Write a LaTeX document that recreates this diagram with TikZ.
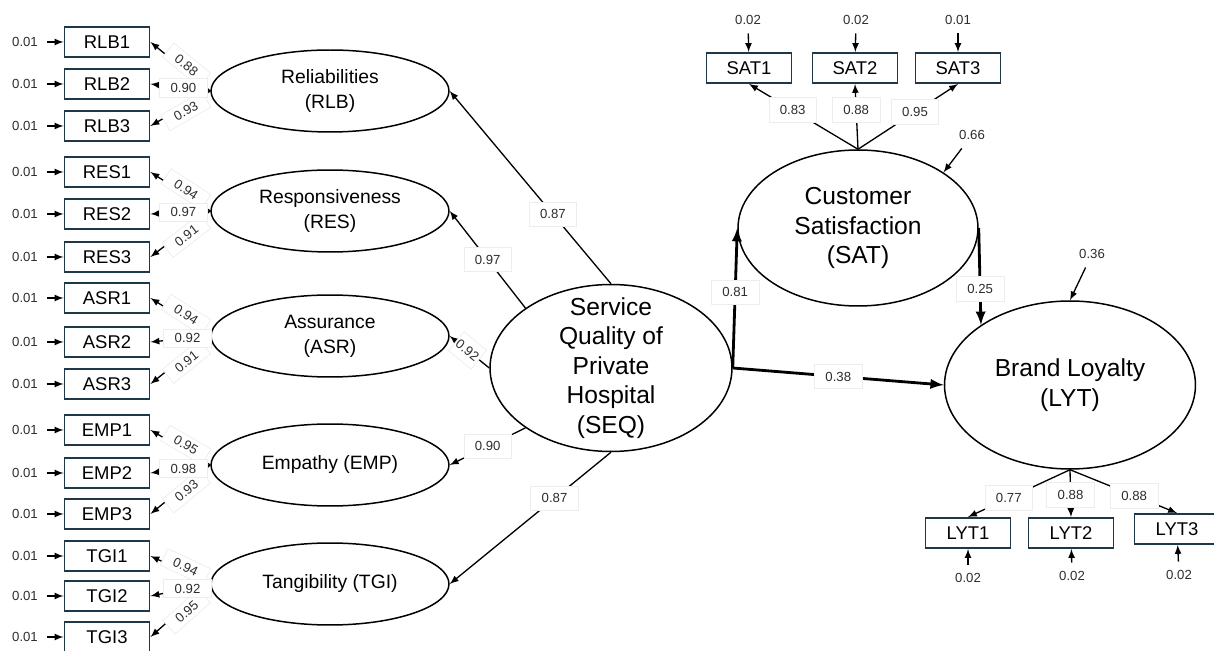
\documentclass[tikz,border=0pt]{standalone}
\usepackage{fontspec}
\setmainfont{Liberation Sans}
\usepackage{tikz}
\usetikzlibrary{shapes.geometric}
\definecolor{boxline}{RGB}{31,56,72}
\definecolor{numgray}{RGB}{45,45,45}
\tikzset{
	obs/.style={draw=boxline,line width=1.1pt,minimum width=1.7cm,minimum height=.6cm,inner sep=0pt,font=\fontsize{10.5}{12}\selectfont},
	err/.style={inner sep=2pt,outer sep=3pt,text=numgray,font=\fontsize{7.5}{9}\selectfont},
	load/.style={fill=white,draw=black!7,line width=.4pt,minimum width=27pt,minimum height=14pt,inner sep=1pt,text=numgray,font=\fontsize{7.5}{9}\selectfont},
	lload/.style={load,sloped,pos=.45,minimum height=0pt,inner ysep=2.5pt},
	lat/.style={ellipse,draw,line width=.85pt,inner sep=0pt,align=center},
	fac/.style={lat,minimum width=4.76cm,minimum height=1.64cm,font=\fontsize{11}{14.2}\selectfont},
	big/.style={align=center,font=\fontsize{14}{16.8}\selectfont},
	arr/.style={-latex,line width=.75pt},
	thk/.style={-latex,line width=1.6pt}
}
\newcommand{\indic}[2]{
	\node[obs](#1)at(107,#2){#1};
	\node[err](e#1)at(25,#2){0.01};
	\draw[arr](e#1)--(#1)
}

\begin{document}
\begin{tikzpicture}[x=.02cm,y=-.02cm]
	\useasboundingbox(0,0)rectangle(1214,651);
	% indicators of the five dimensions
	\indic{RLB1}{42};
	\indic{RLB2}{84};
	\indic{RLB3}{126};
	\indic{RES1}{172};
	\indic{RES2}{214};
	\indic{RES3}{257};
	\indic{ASR1}{298};
	\indic{ASR2}{342};
	\indic{ASR3}{384};
	\indic{EMP1}{430};
	\indic{EMP2}{473};
	\indic{EMP3}{514};
	\indic{TGI1}{556};
	\indic{TGI2}{596};
	\indic{TGI3}{637};
	\node[fac](RLB)at(330,91){Reliabilities\\(RLB)};
	\node[fac](RES)at(330,211){Responsiveness\\(RES)};
	\node[fac](ASR)at(330,336){Assurance\\(ASR)};
	\node[fac](EMP)at(330,465){Empathy (EMP)};
	\node[fac](TGI)at(330,584){Tangibility (TGI)};
	\draw[arr](RLB.west)--node[lload,above=-2.5pt]{0.88}(RLB1.east);
	\draw[arr](RLB.west)--node[lload,below=-2.5pt]{0.93}(RLB3.east);
	\draw[arr](RLB.west)--node[lload,sloped=false]{0.90}(RLB2.east);
	\draw[arr](RES.west)--node[lload,above=-2.5pt]{0.94}(RES1.east);
	\draw[arr](RES.west)--node[lload,below=-2.5pt]{0.91}(RES3.east);
	\draw[arr](RES.west)--node[lload,sloped=false]{0.97}(RES2.east);
	\draw[arr](ASR.west)--node[lload,above=-2.5pt]{0.94}(ASR1.east);
	\draw[arr](ASR.west)--node[lload,below=-2.5pt]{0.91}(ASR3.east);
	\draw[arr](ASR.west)--node[lload,sloped=false,pos=.38]{0.92}(ASR2.east);
	\draw[arr](EMP.west)--node[lload,above=-2.5pt]{0.95}(EMP1.east);
	\draw[arr](EMP.west)--node[lload,below=-2.5pt]{0.93}(EMP3.east);
	\draw[arr](EMP.west)--node[lload,sloped=false]{0.98}(EMP2.east);
	\draw[arr](TGI.west)--node[lload,above=-2.5pt]{0.94}(TGI1.east);
	\draw[arr](TGI.west)--node[lload,below=-2.5pt]{0.95}(TGI3.east);
	\draw[arr](TGI.west)--node[lload,sloped=false,pos=.38]{0.92}(TGI2.east);
	% second order factor and outcomes
	\node[lat,minimum width=4.84cm,minimum height=3.34cm,label={[big]center:{Service\\Quality of\\Private\\Hospital\\(SEQ)}}](SEQ)at(611,368){};
	\node[lat,big,minimum width=4.8cm,minimum height=3.12cm](SAT)at(858,228){Customer\\Satisfaction\\(SAT)};
	\node[lat,big,minimum width=5.02cm,minimum height=3.36cm](LYT)at(1070,385){Brand Loyalty\\(LYT)};
	\draw[arr](SEQ.north)--node[load,pos=.36]{0.87}(RLB.east);
	\draw[arr](SEQ.145)--node[load]{0.97}(RES.east);
	\draw[arr](SEQ.west)--node[load,sloped,pos=.55,minimum width=0pt]{0.92}(ASR.east);
	\draw[arr](SEQ.215)--node[load]{0.90}(EMP.east);
	\draw[arr](SEQ.south)--node[load,pos=.35]{0.87}(TGI.east);
	\draw[thk](SEQ.east)--node[load,pos=.54]{0.81}(SAT.west);
	\draw[thk](SEQ.east)--node[load]{0.38}(LYT.west);
	\draw[thk](SAT.east)--node[load,pos=.63]{0.25}(LYT.146);
	% satisfaction items
	\node[obs](SAT1)at(749,68){SAT1};
	\node[obs](SAT2)at(855,68){SAT2};
	\node[obs](SAT3)at(958,68){SAT3};
	\node[err](eSAT1)at(748,20){0.02};
	\node[err](eSAT2)at(856,20){0.02};
	\node[err](eSAT3)at(958,20){0.01};
	\draw[arr](eSAT1)--(SAT1);
	\draw[arr](eSAT2)--(SAT2);
	\draw[arr](eSAT3)--(SAT3);
	\draw[arr](SAT.north)--node[load,pos=.6]{0.83}(SAT1.south);
	\draw[arr](SAT.north)--node[load,pos=.6]{0.88}(SAT2.south);
	\draw[arr](SAT.north)--node[load,pos=.57]{0.95}(SAT3.south);
	\node[err](eSAT)at(972,135){0.66};
	\draw[arr](eSAT)--(SAT.33);
	% loyalty items
	\node[obs](LYT1)at(968,533){LYT1};
	\node[obs](LYT2)at(1071,533){LYT2};
	\node[obs](LYT3)at(1177,529){LYT3};
	\node[err](eLYT1)at(968,578){0.02};
	\node[err](eLYT2)at(1072,576){0.02};
	\node[err](eLYT3)at(1179,575){0.02};
	\draw[arr](eLYT1)--(LYT1);
	\draw[arr](eLYT2)--(LYT2);
	\draw[arr](eLYT3)--(LYT3);
	\draw[arr](LYT.south)--node[load,pos=.6]{0.77}(LYT1.north);
	\draw[arr](LYT.south)--node[load,pos=.53]{0.88}(LYT2.north);
	\draw[arr](LYT.south)--node[load,pos=.6]{0.88}(LYT3.north);
	\node[err](eLYT)at(1092,254){0.36};
	\draw[arr](eLYT)--(LYT.north);
\end{tikzpicture}
\end{document}
